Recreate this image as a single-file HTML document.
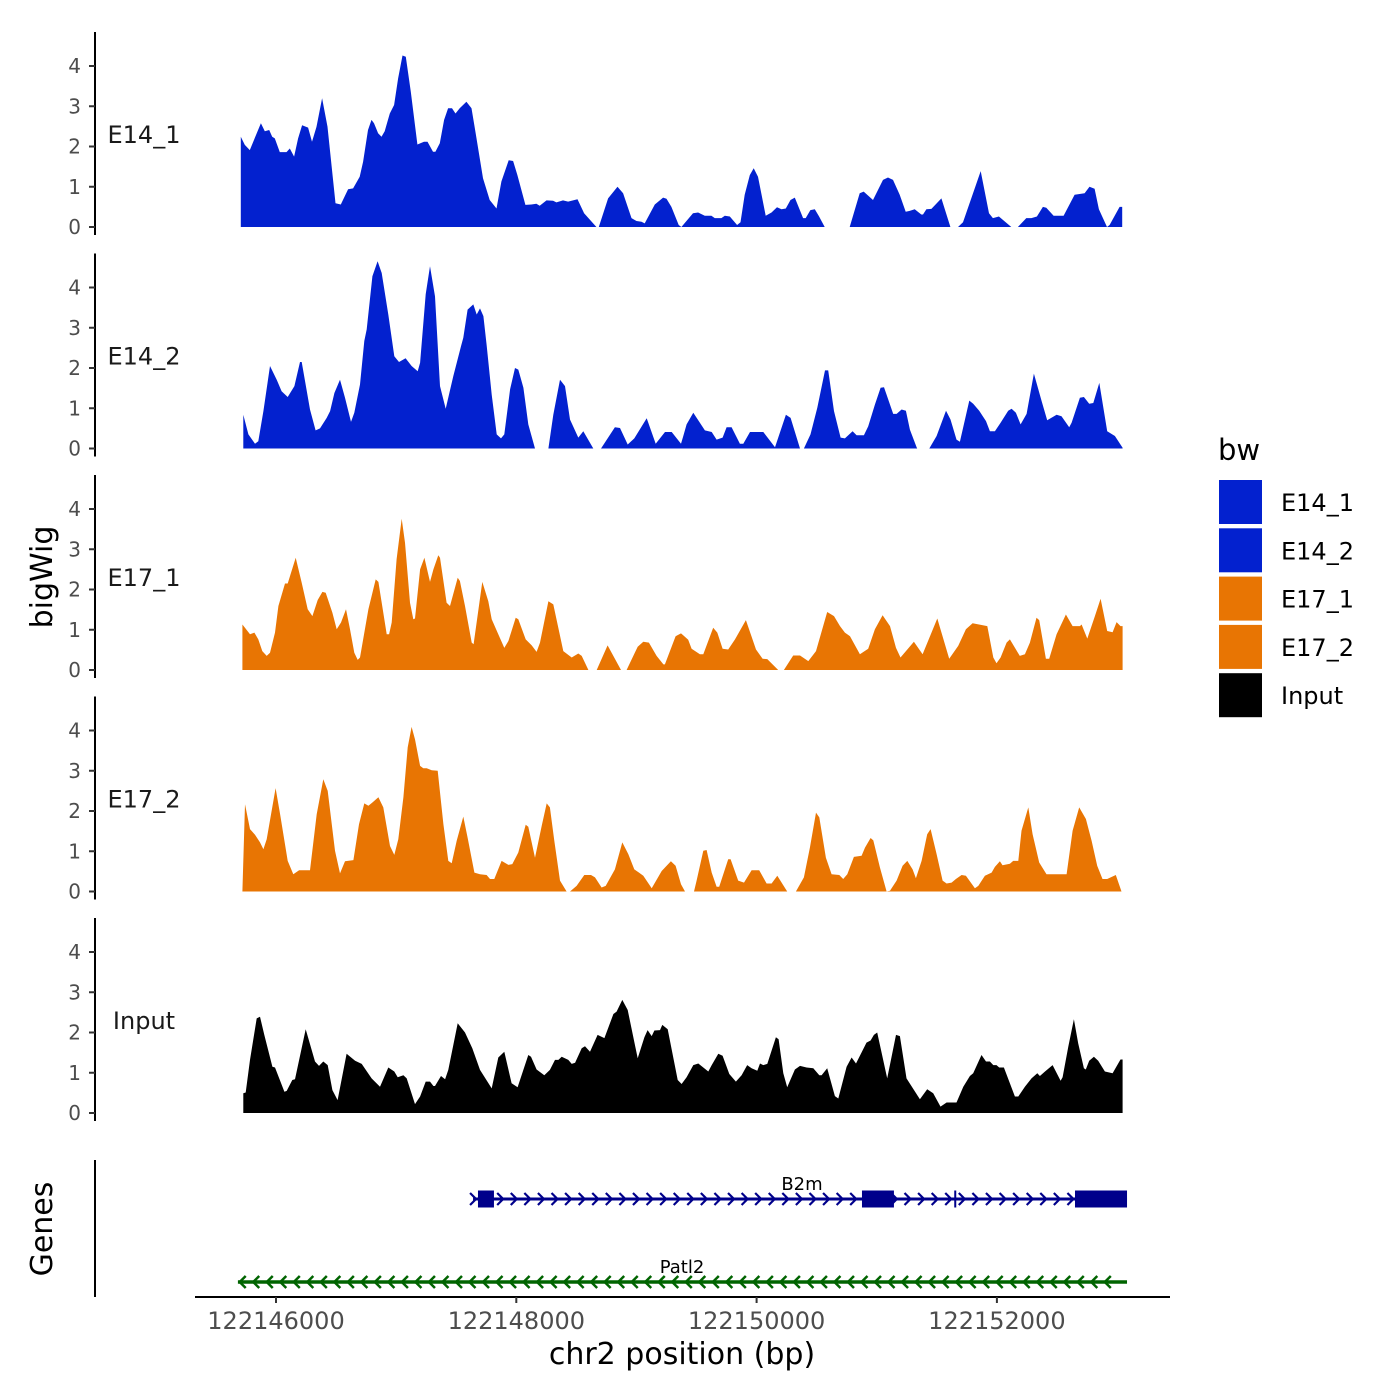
<!DOCTYPE html>
<html><head><meta charset="utf-8"><title>bigWig tracks</title>
<style>
html,body{margin:0;padding:0;background:#fff;}
svg{display:block;font-family:"DejaVu Sans","Liberation Sans",sans-serif;}
</style></head>
<body>
<svg id="chart" width="1400" height="1400" viewBox="0 0 1400 1400" xmlns="http://www.w3.org/2000/svg">
<rect width="1400" height="1400" fill="#fff"/>
<g id="panels"></g>
<g id="genes"></g>
<g id="xaxis"></g>
<text x="52" y="577" transform="rotate(-90 52 577)" text-anchor="middle" font-size="30" fill="#000">bigWig</text>
<text x="52" y="1229" transform="rotate(-90 52 1229)" text-anchor="middle" font-size="30" fill="#000">Genes</text>
<text x="682" y="1364" text-anchor="middle" font-size="30" fill="#000">chr2 position (bp)</text>
<g id="legend"></g>
</svg>
<script>
const BASE = 122145000;
const trackNames = ["E14_1","E14_2","E17_1","E17_2","Input"];
const trackColors = ["#0321CF","#0321CF","#E87503","#E87503","#000000"];
const yTicks = [0,1,2,3,4];
const xTicks = [122146000,122148000,122150000,122152000];

const e141Pos = [707,740,782,874,907,943,968,990,1032,1087,1115,1151,1184,1217,1267,1300,1337,1384,1429,1495,1539,1600,1642,1697,1725,1766,1795,1816,1850,1878,1905,1947,1983,2016,2053,2080,2122,2177,2232,2261,2307,2327,2363,2399,2432,2465,2494,2529,2585,2627,2660,2723,2779,2835,2876,2937,2973,3009,3076,3126,3167,3195,3251,3306,3334,3389,3431,3509,3564,3667,3677,3687,3764,3842,3889,3959,4000,4042,4069,4153,4222,4250,4291,4352,4374,4471,4513,4569,4624,4652,4707,4735,4777,4838,4866,4901,4943,4976,5012,5076,5124,5170,5207,5243,5282,5318,5387,5409,5448,5484,5520,5567,5670,5775,5858,5891,5969,6052,6094,6135,6191,6241,6274,6316,6371,6385,6413,6455,6538,6613,6645,6676,6718,6865,6934,6967,7017,7120,7150,7175,7245,7287,7333,7383,7411,7472,7555,7647,7730,7771,7813,7849,7916,7938,8021,8043];
const e141Val = [2.24,2.04,1.91,2.58,2.38,2.41,2.24,2.2,1.86,1.86,1.95,1.75,2.2,2.53,2.47,2.12,2.49,3.2,2.49,0.59,0.56,0.94,0.96,1.25,1.62,2.41,2.66,2.58,2.33,2.24,2.38,2.82,3.03,3.69,4.26,4.23,3.36,2.05,2.12,2.12,1.87,1.87,2.08,2.66,2.95,2.95,2.82,2.95,3.11,2.95,2.37,1.21,0.67,0.46,1.13,1.66,1.64,1.29,0.55,0.56,0.58,0.53,0.66,0.65,0.61,0.66,0.63,0.69,0.34,0,null,0,0.71,1.0,0.84,0.22,0.15,0.13,0.09,0.56,0.73,0.7,0.5,0.05,0,0.34,0.36,0.28,0.28,0.22,0.22,0.28,0.26,0.05,0.12,0.8,1.29,1.46,1.25,0.28,0.36,0.49,0.44,0.46,0.67,0.73,0.22,0.22,0.42,0.44,0.26,0,null,0,0.84,0.88,0.67,1.17,1.23,1.17,0.8,0.38,0.4,0.44,0.31,0.31,0.44,0.45,0.71,0,null,0,0.12,1.39,0.34,0.22,0.26,0,null,0,0.22,0.22,0.26,0.5,0.48,0.28,0.28,0.8,0.84,1.0,0.95,0.44,0,0.05,0.5,0.5];

const e142Pos = [728,770,825,853,895,950,1006,1047,1097,1153,1200,1214,1283,1330,1366,1422,1450,1486,1533,1574,1624,1652,1699,1735,1755,1802,1846,1880,1935,1985,2024,2079,2129,2179,2199,2246,2282,2323,2365,2412,2476,2540,2559,2595,2642,2670,2698,2726,2753,2795,2837,2873,2900,2948,2989,3017,3059,3100,3156,3210,3267,3308,3364,3405,3447,3516,3558,3641,3670,3705,3821,3863,3927,3982,4085,4160,4238,4293,4371,4390,4417,4473,4570,4626,4667,4717,4750,4792,4861,4889,4945,5056,5153,5244,5283,5361,5380,5394,5449,5505,5569,5596,5644,5699,5735,5799,5832,5893,5929,5985,6032,6060,6137,6165,6207,6243,6276,6332,6337,6390,6437,6498,6576,6614,6664,6692,6770,6803,6853,6909,6942,6983,7031,7094,7122,7158,7197,7247,7308,7372,7419,7497,7538,7602,7622,7691,7724,7768,7802,7852,7918,7982,8046];
const e142Val = [0.84,0.35,0.12,0.18,0.93,2.05,1.71,1.42,1.28,1.55,2.15,2.15,0.97,0.45,0.5,0.76,0.93,1.38,1.71,1.26,0.66,0.89,1.59,2.67,2.96,4.28,4.65,4.36,3.33,2.29,2.15,2.24,2.05,1.92,2.13,3.83,4.53,3.78,1.55,0.99,1.8,2.54,2.75,3.45,3.58,3.33,3.48,3.29,2.58,1.34,0.35,0.25,0.35,1.47,2.0,1.96,1.51,0.6,0,null,0,0.84,1.71,1.55,0.72,0.27,0.43,0,null,0,0.53,0.51,0.1,0.25,0.75,0.12,0.41,0.41,0.12,0.31,0.6,0.89,0.45,0.41,0.22,0.27,0.53,0.53,0.12,0.12,0.41,0.41,0.03,0.84,0.76,0,null,0,0.35,1.01,1.94,1.94,0.93,0.27,0.25,0.43,0.33,0.33,0.55,1.09,1.51,1.52,0.86,0.86,0.97,0.94,0.47,0.03,0,null,0,0.31,0.94,0.72,0.22,0.17,1.19,1.11,0.94,0.68,0.43,0.43,0.64,0.94,0.99,0.89,0.6,0.86,1.86,1.18,0.7,0.84,0.8,0.53,0.64,1.26,1.28,1.11,1.13,1.63,0.43,0.31,0.02];

const e171Pos = [720,784,820,853,886,923,950,992,1020,1075,1097,1164,1214,1264,1303,1347,1386,1414,1469,1505,1541,1583,1616,1652,1680,1699,1769,1830,1852,1921,1941,1963,2004,2046,2074,2115,2143,2157,2199,2235,2282,2310,2351,2365,2420,2448,2512,2531,2573,2629,2645,2717,2767,2795,2900,2934,2995,3017,3078,3128,3169,3197,3267,3308,3391,3461,3516,3544,3600,3635,3669,3760,3871,3895,3918,4010,4057,4104,4168,4224,4237,4326,4371,4398,4431,4459,4528,4556,4639,4673,4717,4764,4820,4911,4995,5050,5089,5180,5200,5227,5305,5361,5430,5494,5588,5644,5694,5735,5777,5860,5929,5985,6049,6110,6160,6198,6309,6382,6504,6603,6678,6742,6798,6920,6970,6997,7031,7081,7108,7191,7233,7275,7330,7352,7408,7435,7497,7574,7630,7691,7705,7752,7816,7863,7918,7963,7996,8029,8046];
const e171Val = [1.13,0.89,0.93,0.76,0.47,0.35,0.43,0.93,1.59,2.15,2.15,2.79,2.17,1.51,1.34,1.74,1.94,1.92,1.42,1.01,1.18,1.51,1.01,0.43,0.25,0.31,1.51,2.25,2.19,0.89,0.89,1.18,2.75,3.76,3.16,1.67,1.26,1.28,2.5,2.79,2.19,2.5,2.85,2.79,1.67,1.59,2.29,2.21,1.59,0.68,0.64,2.19,1.71,1.26,0.55,0.72,1.3,1.26,0.76,0.61,0.45,0.68,1.71,1.63,0.47,0.31,0.41,0.35,0,null,0,0.61,0,null,0,0.58,0.7,0.68,0.35,0.14,0.14,0.84,0.91,0.84,0.75,0.53,0.39,0.39,1.05,0.93,0.53,0.51,0.76,1.24,0.51,0.28,0.27,0,null,0,0.36,0.36,0.22,0.47,1.44,1.34,1.09,0.93,0.84,0.39,0.53,1.01,1.36,1.09,0.55,0.31,0.7,0.39,1.28,0.28,0.6,1.01,1.16,1.09,0.31,0.17,0.31,0.68,0.76,0.35,0.39,0.68,1.3,1.24,0.28,0.28,0.89,1.38,1.09,1.09,1.13,0.78,1.34,1.77,0.97,0.94,1.19,1.09,1.09];

const e172Pos = [720,742,784,825,867,895,923,997,1034,1097,1144,1192,1283,1339,1394,1430,1491,1533,1574,1644,1691,1735,1769,1802,1852,1893,1949,1985,2018,2060,2096,2129,2157,2199,2226,2254,2296,2346,2393,2434,2462,2504,2559,2595,2651,2698,2753,2781,2817,2878,2934,2967,3017,3078,3100,3156,3211,3253,3280,3316,3364,3419,3433,3447,3502,3566,3622,3655,3710,3744,3821,3882,3932,3982,4021,4057,4127,4210,4287,4326,4371,4404,4440,4479,4501,4556,4584,4626,4667,4689,4764,4784,4847,4895,4958,5022,5083,5125,5172,5255,5290,5327,5394,5444,5494,5522,5577,5624,5688,5721,5755,5810,5874,5902,5949,5971,6026,6082,6110,6165,6215,6254,6298,6326,6373,6420,6448,6498,6548,6581,6623,6659,6706,6742,6817,6845,6900,6956,6983,7025,7047,7108,7136,7178,7205,7261,7297,7352,7413,7580,7630,7685,7741,7788,7835,7879,7918,7990,8037];
const e172Val = [0,2.17,1.55,1.41,1.22,1.05,1.3,2.57,1.92,0.76,0.43,0.53,0.53,1.92,2.79,2.5,1.01,0.45,0.75,0.78,1.67,2.19,2.13,2.21,2.34,2.09,1.13,0.91,1.3,2.34,3.58,4.09,3.78,3.12,3.06,3.06,3.01,3.0,1.67,0.76,0.7,1.26,1.86,1.34,0.47,0.43,0.41,0.31,0.31,0.76,0.66,0.68,0.97,1.66,1.61,0.84,1.63,2.19,2.09,1.26,0.27,0,null,0,0.14,0.41,0.41,0.35,0.1,0.14,0.55,1.22,0.93,0.55,0.47,0.39,0.08,0.51,0.75,0.64,0.18,0,null,0,0.27,1.01,1.03,0.47,0.12,0.12,0.8,0.8,0.27,0.22,0.53,0.53,0.2,0.2,0.39,0,null,0,0.35,1.09,1.96,1.84,0.84,0.43,0.41,0.31,0.43,0.86,0.89,1.09,1.33,1.27,0.6,0,0.02,0.27,0.64,0.76,0.55,0.33,0.76,1.42,1.55,0.93,0.27,0.2,0.22,0.31,0.41,0.39,0.08,0.14,0.39,0.47,0.61,0.75,0.65,0.69,0.76,0.76,1.51,2.09,1.42,0.72,0.43,0.43,1.51,2.09,1.8,1.26,0.64,0.31,0.31,0.41,0];

const inputPos = [728,748,784,839,867,903,970,992,1070,1089,1136,1158,1247,1325,1358,1394,1430,1469,1513,1588,1658,1713,1796,1866,1935,1985,2013,2060,2088,2157,2199,2246,2282,2310,2323,2373,2407,2434,2512,2573,2634,2698,2795,2850,2900,2961,3011,3100,3122,3169,3233,3280,3322,3350,3378,3433,3461,3489,3544,3572,3613,3677,3733,3808,3835,3882,3927,4010,4066,4093,4127,4149,4196,4215,4260,4343,4376,4417,4473,4515,4598,4626,4681,4717,4773,4828,4875,4922,4958,5006,5028,5056,5089,5161,5183,5222,5255,5319,5361,5416,5472,5522,5541,5588,5652,5680,5749,5791,5827,5915,5949,5976,6004,6087,6160,6193,6248,6359,6420,6470,6531,6581,6664,6720,6775,6803,6872,6909,6942,6970,6997,7019,7058,7150,7178,7233,7288,7336,7358,7400,7464,7530,7547,7594,7641,7677,7724,7740,7768,7807,7843,7899,7963,8029,8046];
const inputVal = [0.49,0.51,1.32,2.35,2.39,1.94,1.15,1.13,0.53,0.55,0.82,0.84,2.08,1.28,1.17,1.28,1.19,0.57,0.32,1.47,1.3,1.22,0.86,0.65,1.13,1.03,0.89,0.94,0.86,0.22,0.41,0.78,0.78,0.67,0.67,0.92,0.84,1.07,2.23,2.0,1.61,1.07,0.61,1.38,1.52,0.74,0.64,1.44,1.4,1.08,0.94,1.07,1.32,1.32,1.4,1.32,1.22,1.25,1.61,1.66,1.52,1.94,1.86,2.46,2.52,2.81,2.56,1.36,1.88,2.06,1.91,2.05,2.06,2.19,2.08,0.82,0.72,0.89,1.19,1.23,1.03,1.19,1.47,1.42,0.97,0.78,0.94,1.19,1.11,1.05,1.23,1.19,1.22,1.88,1.83,0.99,0.64,1.08,1.17,1.13,1.11,0.94,0.94,1.11,0.42,0.36,1.15,1.38,1.23,1.75,1.8,1.94,2.0,0.86,1.94,1.91,0.86,0.34,0.59,0.49,0.16,0.26,0.26,0.65,0.92,0.99,1.44,1.28,1.28,1.19,1.19,1.13,1.13,0.41,0.41,0.65,0.86,0.99,0.92,1.03,1.19,0.8,0.89,1.65,2.33,1.73,1.11,1.08,1.3,1.4,1.3,1.03,0.99,1.33,1.33];

const geneNames = ["B2m","Patl2"];
const geneStart = [122147640,122145683];
const geneEnd = [122153083,122153083];
const b2mExonStart = [122147681,122150877,122151645,122152650];
const b2mExonEnd = [122147814,122151143,122151660,122153083];

const SVGNS = "http://www.w3.org/2000/svg";
function xScale(bp){ return 276 + (bp - 122146000) * 0.120150; }
function baseY(k){ return 227 + 221.5 * k; }
function yScale(v,k){ return baseY(k) - v * 40.25; }
function mk(tag, attrs, parent){
  const el = document.createElementNS(SVGNS, tag);
  for (const a in attrs) el.setAttribute(a, attrs[a]);
  parent.appendChild(el);
  return el;
}

const tracksPos = [e141Pos,e142Pos,e171Pos,e172Pos,inputPos];
const tracksVal = [e141Val,e142Val,e171Val,e172Val,inputVal];
const panels = document.getElementById('panels');

for (let k = 0; k < 5; k++) {
  const g = mk('g', {}, panels);
  
  
  const b = baseY(k);
  const pos = tracksPos[k], val = tracksVal[k];
  const n = Math.min(pos.length, val.length);
  let d = '', open = false, lastX = 0;
  for (let i = 0; i < n; i++) {
    const v = val[i];
    const x = xScale(BASE + pos[i]);
    if (v === null) {
      if (open) { d += 'L' + lastX.toFixed(1) + ',' + b + 'Z'; open = false; }
      continue;
    }
    if (!open) { d += 'M' + x.toFixed(1) + ',' + b; open = true; }
    d += 'L' + x.toFixed(1) + ',' + yScale(v, k).toFixed(1);
    lastX = x;
  }
  if (open) d += 'L' + lastX.toFixed(1) + ',' + b + 'Z';
  const area = mk('path', {d: d, fill: trackColors[k], stroke: 'none'}, g);
  
  

  const ax = mk('line', {x1: 95, x2: 95, y1: b - 195, y2: b + 8, stroke: '#000', 'stroke-width': 2}, g);
  
  
  for (const t of yTicks) {
    const y = yScale(t, k);
    const tk = mk('line', {x1: 89, x2: 95, y1: y, y2: y, stroke: '#333', 'stroke-width': 2}, g);
    
    
    const tl = mk('text', {x: 81, y: y + 7, 'text-anchor': 'end', 'font-size': 20, fill: '#4D4D4D'}, g);
    tl.textContent = String(t);
    
    
  }
  const lab = mk('text', {x: 144, y: b - 84, 'text-anchor': 'middle', 'font-size': 24, fill: '#1a1a1a'}, g);
  lab.textContent = trackNames[k];
  
  
}

// Genes
const gg = document.getElementById('genes');
const gax = mk('line', {x1: 95, x2: 95, y1: 1160, y2: 1297, stroke: '#000', 'stroke-width': 2}, gg);


{
  const y = 1199, col = '#00008B';
  const x0 = xScale(geneStart[0]), x1 = xScale(geneEnd[0]);
  const ln = mk('line', {x1: x0, x2: x1, y1: y, y2: y, stroke: col, 'stroke-width': 3}, gg);
  
  
  for (let bp = geneStart[0]; bp < geneEnd[0] - 60; bp += 113) {
    const x = xScale(bp);
    const ch = mk('polyline', {points: (x-3)+','+(y-6)+' '+(x+3)+','+y+' '+(x-3)+','+(y+6), fill: 'none', stroke: col, 'stroke-width': 2.2}, gg);
    
    
  }
  for (let i = 0; i < b2mExonStart.length; i++) {
    const xa = xScale(b2mExonStart[i]), xb = xScale(b2mExonEnd[i]);
    const w = Math.max(xb - xa, 2);
    const ex = mk('rect', {x: xa, y: y - 8.5, width: w, height: 17, fill: col}, gg);
    
    
  }
  const t = mk('text', {x: 802, y: 1190, 'text-anchor': 'middle', 'font-size': 18, fill: '#000'}, gg);
  t.textContent = geneNames[0];
  
  
}
{
  const y = 1282, col = '#006400';
  const x0 = xScale(geneStart[1]), x1 = xScale(geneEnd[1]);
  const ln = mk('line', {x1: x0, x2: x1, y1: y, y2: y, stroke: col, 'stroke-width': 3.5}, gg);
  
  
  for (let bp = geneStart[1] + 40; bp < geneEnd[1] - 60; bp += 112.5) {
    const x = xScale(bp);
    const ch = mk('polyline', {points: (x+3)+','+(y-6)+' '+(x-3)+','+y+' '+(x+3)+','+(y+6), fill: 'none', stroke: col, 'stroke-width': 2.5}, gg);
    
    
  }
  const t = mk('text', {x: 682, y: 1273, 'text-anchor': 'middle', 'font-size': 18, fill: '#000'}, gg);
  t.textContent = geneNames[1];
  
  
}

// X axis
const xg = document.getElementById('xaxis');
mk('line', {x1: 195, x2: 1170, y1: 1297, y2: 1297, stroke: '#000', 'stroke-width': 2}, xg);
for (const t of xTicks) {
  const x = xScale(t);
  const tk = mk('line', {x1: x, x2: x, y1: 1297, y2: 1303, stroke: '#333', 'stroke-width': 2}, xg);
  
  
  const tl = mk('text', {x: x, y: 1329, 'text-anchor': 'middle', 'font-size': 24, fill: '#4D4D4D'}, xg);
  tl.textContent = String(t);
  
  
}

// Legend
const lg = document.getElementById('legend');
const lt = mk('text', {x: 1218, y: 460, 'font-size': 29, fill: '#000'}, lg);
lt.textContent = 'bw';


for (let i = 0; i < 5; i++) {
  const y = 480 + i * 48.3;
  const r = mk('rect', {x: 1219, y: y, width: 43, height: 44, fill: trackColors[i]}, lg);
  
  
  const t = mk('text', {x: 1281, y: y + 31, 'font-size': 24, fill: '#000'}, lg);
  t.textContent = trackNames[i];
  
  
}
</script>
</body></html>
